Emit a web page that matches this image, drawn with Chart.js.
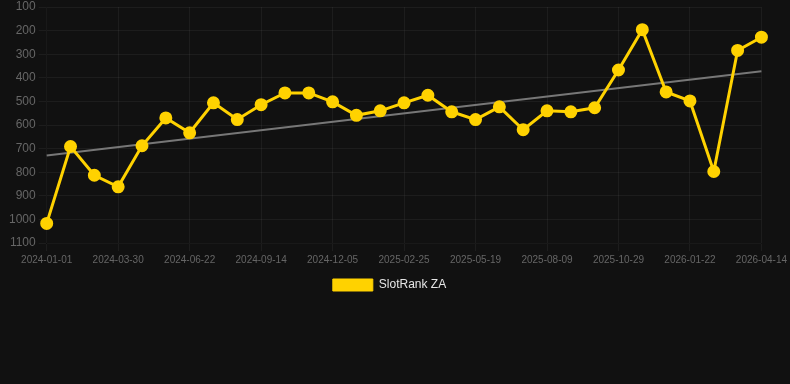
<!DOCTYPE html>
<html>
<head>
<meta charset="utf-8">
<title>SlotRank ZA</title>
<script src="https://cdn.jsdelivr.net/npm/chart.js@4/dist/chart.umd.min.js"></script>
<style>
    html, body { margin: 0; padding: 0; background: #111111; overflow: hidden; }
    .chart-wrap { position: relative; width: 790px; height: 303px; margin-top: -2px; }
</style>
</head>
<body>
<div class="chart-wrap">
    <canvas id="rank_chart"></canvas>
</div>
<script>
// data
const dates = [
    '2024-01-01','2024-01-31','2024-03-01','2024-03-30','2024-04-27','2024-05-25',
    '2024-06-22','2024-07-20','2024-08-17','2024-09-14','2024-10-12','2024-11-08',
    '2024-12-05','2025-01-02','2025-01-30','2025-02-25','2025-03-25','2025-04-22',
    '2025-05-19','2025-06-16','2025-07-13','2025-08-09','2025-09-05','2025-10-02',
    '2025-10-29','2025-11-26','2025-12-24','2026-01-22','2026-02-19','2026-03-18',
    '2026-04-14'
];
const rankZA = [
    1017, 691, 813, 862, 688, 570,
    633, 506, 577, 514, 464, 464,
    502, 559, 540, 506, 474, 544,
    577, 523, 620, 540, 544, 527,
    367, 196, 460, 498, 797, 284,
    228
];
const yTicks = [100, 200, 300, 400, 500, 600, 700, 800, 900, 1000, 1100];

const rank_chart = document.getElementById('rank_chart');
const baseFont   = 'Arial, "Liberation Sans", sans-serif';

// least squares trend over the rank series
const trendLine = () =>{
    const n = rankZA.length;
    let sx = 0, sy = 0, sxy = 0, sxx = 0;
    rankZA.forEach((v, i) =>{
        sx += i; sy += v; sxy += i * v; sxx += i * i;
    });
    const slope = (n * sxy - sx * sy) / (n * sxx - sx * sx);
    const icpt  = (sy - slope * sx) / n;
    return [
        {x: dates[0], y: icpt},
        {x: dates[n - 1], y: icpt + slope * (n - 1)}
    ];
}

var rank_chart_ref = new Chart(rank_chart,{
    type: 'line',
    data: {
        labels: dates,
        datasets:[{
            label:'SlotRank ZA',
            data: rankZA,
            borderColor:'#ffd200',
            backgroundColor:'#ffd200',
            borderWidth:3,
            pointRadius:5,
            pointHoverRadius:6,
            tension:0,
            clip:false
        },{
            label:'trend',
            data: trendLine(),
            borderColor:'#777777',
            borderWidth:2,
            pointRadius:0,
            tension:0,
            clip:false
        }]
    },
    options:{
        responsive:true,
        maintainAspectRatio:false,
        animation:false,
        layout:{ autoPadding:false, padding:{ left:6, top:0, right:17, bottom:0 } },
        scales:{
            x:{
                grid:{ color:'rgba(255,255,255,0.05)' },
                ticks:{
                    color:'#666',
                    font:{ family:baseFont, size:10 },
                    maxRotation:0,
                    autoSkip:true
                }
            },
            y:{
                reverse:true,
                min:yTicks[0],
                max:yTicks[yTicks.length - 1],
                grid:{ color:'rgba(255,255,255,0.05)' },
                afterBuildTicks:(axis) =>{ axis.ticks = yTicks.map(v => ({value:v})); },
                ticks:{
                    color:'#666',
                    font:{ family:baseFont, size:12, lineHeight:1 },
                    callback:(v) => String(v)
                }
            }
        },
        plugins:{
            legend:{
                position:'bottom',
                labels:{
                    color:'#e6e6e6',
                    font:{ family:baseFont, size:12 },
                    boxWidth:40,
                    boxHeight:12,
                    generateLabels:(chart) =>
                        Chart.defaults.plugins.legend.labels.generateLabels(chart)
                            .filter(item => item.text !== 'trend')
                            .map(item => Object.assign(item, {lineWidth:1}))
                }
            },
            tooltip:{ enabled:false }
        }
    }
})
</script>
</body>
</html>
